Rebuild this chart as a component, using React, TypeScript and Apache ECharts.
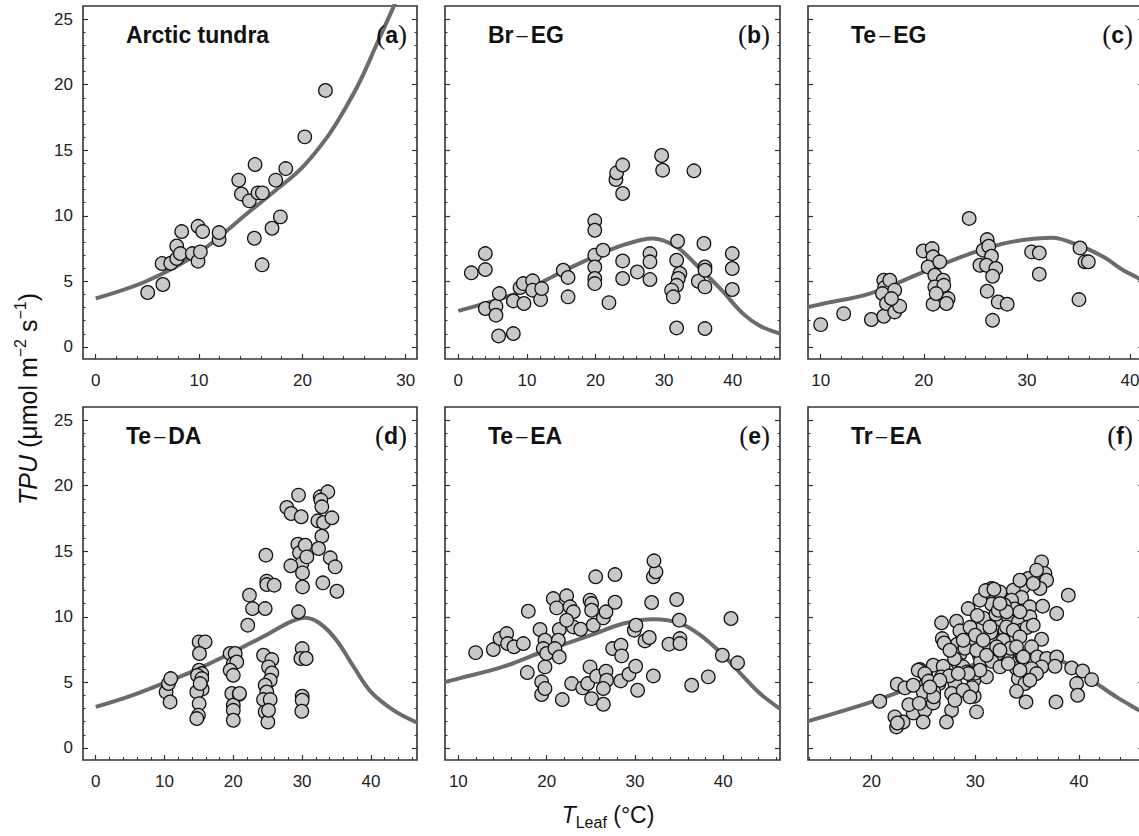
import React, { useEffect, useRef } from "react";
import * as echarts from "echarts";

// ---------- data ----------
const tundraPoints: number[][] = [
  [5.03, 4.15], [6.5, 4.76], [6.42, 6.36], [7.26, 6.38], [7.84, 7.7], [7.84, 6.74], [8.19, 7.12],
  [8.32, 8.8], [9.35, 7.12], [9.9, 9.2], [9.9, 6.54], [10.13, 7.25], [10.35, 8.8], [11.94, 8.19],
  [11.94, 8.72], [13.84, 12.72], [14.1, 11.67], [14.87, 11.14], [15.42, 13.91], [15.35, 8.29],
  [15.7, 11.75], [16.13, 11.75], [16.1, 6.26], [17.06, 9.05], [17.42, 12.72], [17.87, 9.92],
  [18.39, 13.6], [20.23, 16.02], [22.23, 19.56],
];
const brEgPoints: number[][] = [
  [1.9, 5.65], [3.94, 7.12], [3.94, 5.9], [3.94, 2.93], [5.49, 3.1], [5.49, 2.42], [5.98, 4.07],
  [5.88, 0.84], [8.02, 1.02], [8.02, 3.51], [9.0, 4.53], [9.47, 4.83], [9.57, 3.31], [10.84, 5.04],
  [10.84, 4.33], [12.0, 3.61], [12.15, 4.45], [15.3, 5.85], [16.0, 5.3], [16.0, 3.82], [19.9, 9.62],
  [19.9, 8.9], [19.9, 7.0], [19.9, 6.1], [19.9, 5.22], [19.9, 4.83], [21.1, 7.38], [21.96, 3.38],
  [22.98, 12.77], [23.08, 13.28], [23.96, 13.87], [23.96, 11.7], [23.96, 6.56], [23.96, 5.22],
  [26.1, 5.72], [27.94, 7.12], [27.94, 6.49], [27.94, 5.14], [29.64, 14.6], [29.79, 13.48],
  [34.35, 13.43], [31.97, 8.06], [31.83, 6.61], [32.3, 5.6], [32.07, 5.22], [31.83, 4.7],
  [31.1, 4.33], [31.34, 3.82], [31.83, 1.45], [34.99, 5.01], [35.81, 7.89], [35.96, 6.1],
  [35.96, 5.85], [35.96, 4.58], [35.96, 1.4], [39.94, 7.12], [39.94, 5.98], [39.94, 4.38],
];
const teEgPoints: number[][] = [
  [10.0, 1.7], [12.23, 2.54], [14.92, 2.09], [16.12, 2.34], [16.12, 5.09], [16.2, 4.53], [16.7, 5.09],
  [15.99, 4.07], [17.18, 4.33], [16.38, 3.31], [17.18, 2.67], [17.67, 3.1], [16.86, 3.69],
  [19.94, 7.32], [20.81, 7.5], [20.9, 6.87], [20.42, 6.1], [21.55, 6.49], [21.07, 5.47], [21.88, 5.09],
  [21.07, 4.58], [21.94, 4.7], [20.9, 3.26], [22.36, 3.69], [22.2, 3.31], [21.2, 4.07], [24.4, 9.8],
  [26.15, 8.19], [25.76, 7.38], [26.3, 7.68], [26.57, 6.92], [25.44, 6.23], [26.08, 6.23],
  [26.99, 5.98], [26.67, 5.39], [26.15, 4.25], [27.22, 3.43], [28.09, 3.26], [26.67, 2.03],
  [30.45, 7.25], [31.2, 7.17], [31.2, 5.55], [35.15, 7.55], [35.63, 6.49], [35.96, 6.49], [35.05, 3.61],
];
const teDaPoints: number[][] = [
  [10.23, 4.27], [10.57, 4.91], [10.9, 5.29], [10.81, 3.51], [15.03, 8.09], [15.9, 8.09], [15.08, 7.2],
  [15.03, 5.93], [15.42, 5.67], [14.79, 5.54], [15.42, 5.29], [15.47, 4.48], [14.69, 4.27],
  [15.03, 3.38], [14.93, 2.49], [14.69, 2.24], [15.18, 4.91], [19.54, 7.2], [20.27, 7.2], [20.0, 6.43],
  [20.5, 6.56], [19.54, 5.93], [20.0, 5.54], [19.78, 4.15], [20.85, 4.09], [20.0, 3.26], [20.0, 2.87],
  [20.0, 2.11], [20.9, 4.15], [22.35, 11.65], [22.79, 10.63], [22.1, 9.36], [24.73, 14.7],
  [24.87, 12.72], [24.87, 12.46], [25.94, 12.41], [24.63, 10.63], [24.39, 7.07], [25.6, 6.74],
  [25.12, 6.18], [25.6, 5.72], [25.36, 5.16], [24.63, 4.78], [24.87, 4.27], [24.39, 3.69],
  [25.36, 3.69], [24.63, 2.75], [25.02, 1.98], [25.12, 2.87], [27.78, 18.34], [28.41, 17.88],
  [29.48, 19.28], [29.87, 17.63], [29.38, 15.54], [29.62, 14.88], [30.45, 15.46], [29.96, 14.06],
  [28.36, 13.89], [30.06, 13.35], [30.06, 12.28], [30.69, 14.57], [29.48, 10.38], [30.01, 7.58],
  [29.82, 6.82], [30.59, 6.82], [30.01, 3.94], [30.01, 3.64], [29.96, 2.8], [32.29, 17.32],
  [32.63, 19.15], [33.74, 19.53], [32.73, 18.9], [32.87, 18.39], [33.11, 17.19], [32.87, 16.15],
  [34.33, 17.55], [32.39, 15.21], [34.09, 14.5], [34.81, 13.81], [33.02, 12.59], [35.06, 11.95],
];
const teEaPoints: number[][] = [
  [11.96, 7.27], [13.96, 7.5], [14.72, 8.34], [15.47, 8.72], [15.58, 7.96], [16.3, 7.71], [17.36, 7.96],
  [17.92, 10.43], [17.81, 5.75], [19.25, 9.03], [19.43, 5.04], [19.43, 4.07], [19.81, 8.21],
  [19.81, 4.53], [19.81, 6.18], [19.62, 7.58], [20.0, 7.2], [20.75, 11.39], [21.13, 10.68],
  [21.43, 9.03], [21.32, 8.21], [20.94, 7.58], [21.43, 6.94], [21.77, 3.69], [22.26, 11.6],
  [22.64, 10.76], [23.02, 10.38], [23.02, 9.23], [22.26, 9.74], [22.83, 4.91], [23.85, 9.05],
  [24.08, 4.58], [24.64, 4.91], [24.91, 6.18], [24.91, 11.27], [25.09, 11.01], [25.09, 10.5],
  [25.28, 9.36], [25.09, 3.76], [25.55, 13.05], [25.66, 5.47], [26.42, 9.92], [26.72, 10.38],
  [26.72, 5.85], [26.79, 5.16], [26.42, 4.53], [26.42, 3.33], [27.74, 13.22], [27.74, 11.11],
  [27.47, 7.58], [28.42, 7.83], [28.49, 7.02], [28.38, 5.11], [29.32, 5.62], [30.08, 6.23],
  [29.92, 8.98], [30.11, 9.36], [30.3, 4.4], [31.13, 8.16], [31.62, 8.42], [31.89, 11.09],
  [32.08, 13.05], [32.38, 13.43], [32.15, 14.27], [32.08, 5.49], [33.85, 7.91], [34.72, 11.32],
  [35.02, 9.74], [35.09, 8.34], [35.09, 7.96], [36.42, 4.78], [38.3, 5.42], [39.89, 7.07],
  [40.87, 9.87], [41.62, 6.49],
];
const trEaPoints: number[][] = [
  [20.8, 3.56], [22.48, 4.86], [23.22, 4.58], [22.25, 2.37], [22.41, 1.6], [23.05, 1.98], [24.02, 2.67],
  [25.14, 2.87], [24.98, 1.98], [24.66, 5.98], [25.21, 5.6], [25.95, 6.31], [24.98, 4.65], [24.98, 4.27],
  [25.95, 3.43], [26.91, 6.23], [26.75, 9.54], [26.82, 8.34], [28.2, 9.66], [28.52, 8.93], [29.32, 10.63],
  [28.26, 7.91], [28.52, 7.15], [28.36, 6.43], [28.04, 4.91], [27.72, 4.15], [27.72, 2.87], [27.23, 1.98],
  [26.75, 5.42], [29.8, 8.21], [30.39, 7.07], [29.87, 5.16], [29.9, 3.94], [30.13, 2.75], [31.09, 5.42],
  [31.25, 11.78], [31.58, 10.96], [31.09, 9.79], [30.61, 9.1], [31.74, 8.34], [31.58, 12.16],
  [32.38, 11.9], [32.54, 9.74], [32.86, 8.98], [32.38, 6.31], [30.45, 11.27], [36.4, 14.19],
  [35.98, 13.35], [36.72, 13.3], [36.88, 12.79], [35.11, 12.92], [36.24, 12.16], [34.63, 12.28],
  [33.67, 12.03], [34.47, 11.47], [33.5, 11.27], [35.27, 10.76], [36.5, 10.81], [37.85, 10.25],
  [38.97, 11.65], [33.18, 10.0], [34.15, 9.61], [35.27, 10.0], [33.02, 9.23], [34.47, 8.98],
  [33.5, 8.09], [32.7, 8.21], [36.4, 8.29], [35.43, 7.71], [33.02, 6.94], [35.98, 6.94], [36.88, 6.82],
  [37.85, 6.94], [37.69, 6.23], [36.4, 6.18], [35.43, 6.05], [33.98, 6.05], [39.29, 6.1], [40.35, 5.87],
  [41.22, 5.21], [39.77, 4.91], [39.87, 4.02], [34.15, 5.29], [34.79, 4.91], [33.98, 4.32], [34.89, 3.51],
  [37.78, 3.51], [24.02, 4.78], [24.5, 5.93], [25.14, 5.67], [30.8, 9.9], [31.5, 8.8], [32.0, 10.2],
  [33.8, 10.6], [29.5, 9.2], [30.2, 10.1], [31.2, 7.5], [32.2, 7.2], [33.4, 7.6], [34.5, 7.0], [35.0, 9.2],
  [29.0, 7.6], [28.8, 6.2], [27.5, 5.5], [26.5, 4.9], [30.5, 6.6], [31.6, 6.6], [29.7, 4.6], [26.0, 4.3],
  [23.6, 3.3], [22.5, 1.9], [24.6, 3.4], [25.5, 5.1], [32.8, 10.9], [30.0, 8.6], [31.0, 12.0],
  [31.8, 12.1], [27.0, 8.0], [28.0, 6.8], [29.2, 5.8], [30.0, 5.7], [26.0, 3.9],
  [27.56, 7.45], [28.84, 8.21], [30.13, 7.45], [30.45, 5.93], [29.32, 5.67], [28.36, 5.67], [26.59, 5.16],
  [25.63, 4.65], [28.84, 4.4], [29.49, 3.89], [28.04, 3.64], [31.09, 7.07], [32.06, 7.71], [30.77, 8.21],
  [31.41, 9.23], [32.22, 10.5], [33.02, 10.38], [32.38, 11.01], [34.31, 10.38], [35.59, 9.36],
  [33.67, 8.98], [34.31, 8.47], [33.98, 7.71], [32.38, 7.45], [34.63, 6.94], [34.31, 5.93], [35.91, 5.67],
  [32.38, 6.18], [33.18, 6.43], [35.27, 5.16], [35.59, 12.54], [34.31, 12.79], [35.91, 13.56],
];

// fitted curves
const curveA: number[][] = [[0, 3.7], [5, 5.05], [10, 7.2], [15, 10.4], [17.5, 12.0], [20, 13.7], [22.4, 16.0], [24, 18.0], [25.6, 20.3], [27.2, 23.1], [28.8, 25.9], [29.3, 26.8]];
const curveB: number[][] = [[0, 2.75], [5, 3.5], [10, 4.38], [15, 5.7], [20, 6.92], [24, 7.76], [28.3, 8.27], [31.8, 7.63], [35, 6.1], [38.4, 4.33], [41.5, 2.54], [44, 1.6], [47, 1.0]];
const curveC: number[][] = [[8.7, 3.03], [10, 3.26], [14.76, 4.07], [20, 5.72], [24.5, 7.12], [27.7, 7.88], [30, 8.19], [32.4, 8.32], [35, 7.76], [37.4, 6.87], [39.35, 5.85], [40.87, 5.22], [41.5, 4.9]];
const curveD: number[][] = [[0, 3.13], [5, 3.95], [10, 4.96], [15, 6.05], [20, 7.32], [25, 8.67], [28.3, 9.61], [30.4, 9.92], [32.6, 9.49], [35, 8.21], [37.5, 6.18], [40, 4.27], [43.3, 2.87], [46.8, 1.91]];
const curveE: number[][] = [[8.4, 5.02], [10, 5.29], [15, 6.18], [20, 7.45], [25, 8.6], [28.7, 9.49], [32.1, 9.82], [35, 9.54], [37.4, 8.6], [40, 7.07], [42.3, 5.42], [44.15, 4.15], [46.5, 2.95]];
const curveF: number[][] = [[13.8, 2.02], [20, 3.51], [25, 4.96], [30, 6.38], [32.7, 6.94], [34.6, 7.02], [36.9, 6.94], [38.5, 6.56], [40, 5.8], [41.7, 4.91], [43.6, 3.89], [45.8, 2.87], [46.3, 2.65]];

const panelTitles: string[][] = [["Arctic tundra"], ["Br", "EG"], ["Te", "EG"], ["Te", "DA"], ["Te", "EA"], ["Tr", "EA"]];
const panelLetters: string[] = ["a", "b", "c", "d", "e", "f"];
const xMajorTicks: number[][] = [[0, 10, 20, 30], [0, 10, 20, 30, 40], [10, 20, 30, 40], [0, 10, 20, 30, 40], [10, 20, 30, 40], [20, 30, 40]];
const xRanges: number[][] = [[-1.23, 31.09], [-1.94, 46.9], [8.77, 41.26], [-1.85, 46.7], [8.49, 46.42], [13.88, 46.17]];
const yMajorTicks: number[] = [0, 5, 10, 15, 20, 25];
const yRange: number[] = [-0.92, 26];
const allPoints = [tundraPoints, brEgPoints, teEgPoints, teDaPoints, teEaPoints, trEaPoints];
const allCurves = [curveA, curveB, curveC, curveD, curveE, curveF];

const FONT = "'Liberation Sans', Arial, Helvetica, sans-serif";
const FRAME = "#333333";

function stepTicks(min: number, max: number, step: number): number[] {
  const out: number[] = [];
  for (let v = Math.ceil(min / step) * step; v <= max + 1e-9; v += step) out.push(Math.round(v * 1000) / 1000);
  return out;
}

export default function App() {
  const ref = useRef<HTMLDivElement>(null);
  useEffect(() => {
    if (!ref.current) return;
    const chart = echarts.init(ref.current, null, { renderer: "svg" });
    const lefts = [83, 445, 808];
    const widths = [334, 335, 335];
    const tops = [6, 407];
    const H = 353;
    const grids: any[] = [];
    const xAxes: any[] = [];
    const yAxes: any[] = [];
    const series: any[] = [];
    const graphics: any[] = [];
    const yMinor = stepTicks(0, 25, 1);
    for (let i = 0; i < 6; i++) {
      const col = i % 3;
      const row = Math.floor(i / 3);
      const gx = lefts[col];
      const gy = tops[row];
      const gw = widths[col];
      grids.push({
        left: gx, top: gy, width: gw, height: H, show: true,
        borderColor: FRAME, borderWidth: 1.6, backgroundColor: "transparent",
        containLabel: false, outerBoundsMode: "none",
      });
      const xr = xRanges[i];
      const xMinor = stepTicks(xr[0], xr[1], 2);
      const baseX = {
        type: "value", gridIndex: i, min: xr[0], max: xr[1], position: "bottom",
        axisLine: { show: false, onZero: false }, splitLine: { show: false },
      };
      xAxes.push({
        ...baseX,
        axisTick: { show: true, inside: true, length: 5, customValues: xMajorTicks[i], lineStyle: { color: FRAME, width: 1.2 } },
        axisLabel: { show: true, customValues: xMajorTicks[i], margin: 13, fontSize: 17, fontFamily: FONT, color: "#222" },
      });
      xAxes.push({
        ...baseX,
        axisTick: { show: true, inside: true, length: 3, customValues: xMinor, lineStyle: { color: FRAME, width: 1 } },
        axisLabel: { show: false },
      });
      const baseY = {
        type: "value", gridIndex: i, min: yRange[0], max: yRange[1],
        axisLine: { show: false, onZero: false }, splitLine: { show: false },
      };
      for (const pos of ["left", "right"]) {
        yAxes.push({
          ...baseY, position: pos,
          axisTick: { show: true, inside: true, length: 5, customValues: yMajorTicks, lineStyle: { color: FRAME, width: 1.2 } },
          axisLabel: pos === "left" && col === 0
            ? { show: true, customValues: yMajorTicks, margin: 10, fontSize: 17, fontFamily: FONT, color: "#222" }
            : { show: false },
        });
        yAxes.push({
          ...baseY, position: pos,
          axisTick: { show: true, inside: true, length: 2.5, customValues: yMinor, lineStyle: { color: FRAME, width: 1 } },
          axisLabel: { show: false },
        });
      }
      series.push({
        type: "line", xAxisIndex: 2 * i, yAxisIndex: 4 * i, data: allCurves[i],
        showSymbol: false, symbol: "none", smooth: 0.35, clip: true, z: 2,
        lineStyle: { color: "#6b6b6b", width: 4 },
      });
      series.push({
        type: "scatter", xAxisIndex: 2 * i, yAxisIndex: 4 * i, data: allPoints[i],
        symbol: "circle", symbolSize: 13.5, z: 3, clip: true,
        itemStyle: { color: "#c9c9c9", borderColor: "#111", borderWidth: 1.3, opacity: 1 },
      });
      // panel title
      const t = panelTitles[i];
      const titleText = t.length === 1 ? `{t|${t[0]}}` : `{t|${t[0]}}{d|–}{t|${t[1]}}`;
      graphics.push({
        type: "text", x: gx + 43, y: gy + 29, z: 10,
        style: {
          text: titleText, align: "left", verticalAlign: "middle",
          rich: {
            t: { fontFamily: FONT, fontWeight: "bold", fontSize: 23, fill: "#111" },
            d: { fontFamily: FONT, fontWeight: "normal", fontSize: 20, fill: "#111", padding: [0, 3, 0, 3] },
          },
        },
      });
      graphics.push({
        type: "text", x: gx + gw - 10, y: gy + 29, z: 10,
        style: {
          text: `{p|(}{l|${panelLetters[i]}}{p|)}`, align: "right", verticalAlign: "middle",
          rich: {
            p: { fontFamily: "'Liberation Serif', 'Times New Roman', serif", fontSize: 27, fill: "#111" },
            l: { fontFamily: FONT, fontWeight: "bold", fontSize: 23, fill: "#111" },
          },
        },
      });
    }
    // axis titles
    graphics.push({
      type: "text", x: 28, y: 399, rotation: Math.PI / 2, z: 10,
      style: {
        text: "{i|TPU}{n| (μmol m}{s|−2}{n| s}{s|−1}{n|)}",
        align: "center", verticalAlign: "middle",
        rich: {
          i: { fontFamily: FONT, fontStyle: "italic", fontSize: 25, lineHeight: 32, fill: "#111" },
          n: { fontFamily: FONT, fontSize: 25, lineHeight: 32, fill: "#111" },
          s: { fontFamily: FONT, fontSize: 16, lineHeight: 16, verticalAlign: "top", fill: "#111" },
        },
      },
    });
    graphics.push({
      type: "text", x: 608, y: 815, z: 10,
      style: {
        text: "{i|T}{b|Leaf}{n| (°C)}",
        align: "center", verticalAlign: "middle",
        rich: {
          i: { fontFamily: FONT, fontStyle: "italic", fontSize: 23, lineHeight: 30, fill: "#111" },
          b: { fontFamily: FONT, fontSize: 16, lineHeight: 16, verticalAlign: "bottom", fill: "#111" },
          n: { fontFamily: FONT, fontSize: 23, lineHeight: 30, fill: "#111" },
        },
      },
    });
    chart.setOption({
      animation: false,
      backgroundColor: "#ffffff",
      grid: grids,
      xAxis: xAxes,
      yAxis: yAxes,
      series,
      graphic: graphics,
    });
    return () => chart.dispose();
  }, []);
  return (
    <div
      ref={ref}
      style={{ position: "fixed", left: 0, top: 0, width: 1139, height: 836, background: "#fff" }}
    />
  );
}
